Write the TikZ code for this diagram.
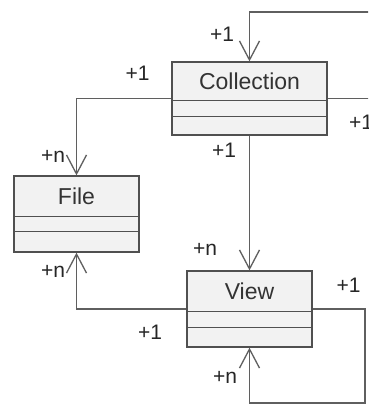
\documentclass[tikz,border=0pt]{standalone}
\usepackage{fontspec}
\setmainfont{Liberation Sans}
\usetikzlibrary{arrows.meta,positioning}
\definecolor{boxline}{RGB}{80,80,80}
\definecolor{boxfill}{RGB}{242,242,242}
\definecolor{wire}{RGB}{95,95,95}

\begin{document}
\begin{tikzpicture}[x=1pt, y=-1pt,
        classbox/.style={rectangle, draw=boxline, fill=boxfill, line width=1.3pt, inner sep=0pt},
        classname/.style={rectangle, inner sep=0pt, font=\fontsize{23}{26}\selectfont, text=black!80},
        divider/.style={draw=boxline, line width=1.3pt},
        link/.style={draw=wire, line width=1.3pt},
        arrow/.style={link, -{Straight Barb[length=19pt,width=20pt]}},
        mult/.style={inner sep=0pt, font=\fontsize{21}{24}\selectfont, text=black!85}
    ]

    % Page size and white background
    \useasboundingbox (0,0) rectangle (368,405);
    \fill[white] (0,0) rectangle (368,405);
    \clip (0,0) rectangle (368,405);

    % Class boxes with name compartment and two empty compartments
    \node[classbox, minimum width=155pt, minimum height=73pt] (coll) at (249.5,98.5) {};
    \node[classname, minimum height=39pt, below=0pt of coll.north] (coll-name) {Collection};
    \draw[divider] ([yshift=-39pt]coll.north west) -- ([yshift=-39pt]coll.north east);
    \draw[divider] ([yshift=-55pt]coll.north west) -- ([yshift=-55pt]coll.north east);

    \node[classbox, minimum width=125pt, minimum height=76pt] (file) at (76.5,214) {};
    \node[classname, minimum height=41pt, below=0pt of file.north] (file-name) {File};
    \draw[divider] ([yshift=-41pt]file.north west) -- ([yshift=-41pt]file.north east);
    \draw[divider] ([yshift=-56pt]file.north west) -- ([yshift=-56pt]file.north east);

    \node[classbox, minimum width=125pt, minimum height=76pt] (view) at (249.5,309) {};
    \node[classname, minimum height=41pt, below=0pt of view.north] (view-name) {View};
    \draw[divider] ([yshift=-41pt]view.north west) -- ([yshift=-41pt]view.north east);
    \draw[divider] ([yshift=-57pt]view.north west) -- ([yshift=-57pt]view.north east);

    % Associations
    \coordinate (coll-loop) at (380,12);
    \coordinate (view-loop) at (365,403);
    \draw[arrow] (coll.east) -| (coll-loop) -| (coll.north);
    \draw[arrow] (coll.west) -| (file.north);
    \draw[arrow] (coll.south) -- (view.north);
    \draw[arrow] (view.west) -| (file.south);
    \draw[arrow] (view.east) -| (view-loop) -| (view.south);

    % Multiplicities
    \node[mult] (m-coll-top) at (222,34) {+1};
    \node[mult] (m-coll-right) at (361,122) {+1};
    \node[mult] (m-coll-left) at (137.5,73) {+1};
    \node[mult] (m-file-top) at (53,156) {+n};
    \node[mult] (m-coll-bottom) at (224,150) {+1};
    \node[mult] (m-view-top) at (205,249) {+n};
    \node[mult] (m-file-bottom) at (53,271) {+n};
    \node[mult] (m-view-left) at (150,332) {+1};
    \node[mult] (m-view-right) at (348.5,285) {+1};
    \node[mult] (m-view-bottom) at (225,377) {+n};

\end{tikzpicture}
\end{document}
